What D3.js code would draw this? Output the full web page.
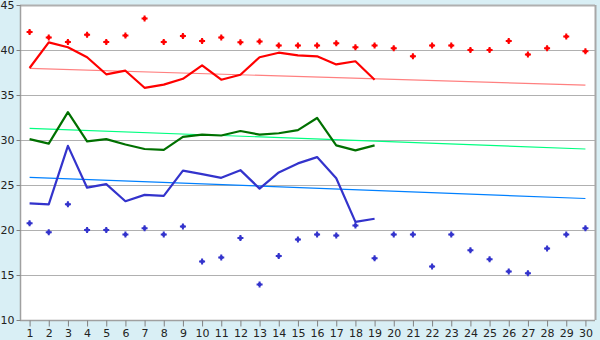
<!DOCTYPE html>
<html>
<head>
<meta charset="utf-8">
<script src="https://cdn.jsdelivr.net/npm/d3@7"></script>
<style>
	body { margin: 0; background: #d9eff5; }
	svg { display: block; }
	.tick text { font-family: "DejaVu Sans", Verdana, sans-serif; font-size: 11px; fill: #222; }
</style>
</head>
<body>
<svg id="canvas" width="600" height="340"></svg>
<script>
var days = d3.range(1, 31);
var yTicks = [10, 15, 20, 25, 30, 35, 40, 45];

// daily maximum (red points)
var maxPoints = [42.0, 41.4, 40.9, 41.7, 40.9, 41.6, 43.5, 40.9, 41.55, 41.0,
	41.4, 40.85, 40.95, 40.5, 40.5, 40.5, 40.75, 40.3, 40.5, 40.2,
	39.3, 40.5, 40.5, 40.0, 40.0, 41.0, 39.5, 40.2, 41.5, 39.85];
// daily minimum (blue points)
var minPoints = [20.75, 19.75, 22.85, 20.0, 20.0, 19.5, 20.2, 19.5, 20.4, 16.5,
	16.95, 19.1, 13.95, 17.1, 18.95, 19.5, 19.4, 20.5, 16.85, 19.5,
	19.5, 15.95, 19.5, 17.75, 16.75, 15.4, 15.2, 17.95, 19.5, 20.2];

// lines for days 1..19
var redLine = [38.0, 40.85, 40.3, 39.2, 37.3, 37.7, 35.8, 36.15, 36.8, 38.3,
	36.7, 37.25, 39.2, 39.7, 39.4, 39.3, 38.4, 38.75, 36.7];
var greenLine = [30.1, 29.6, 33.1, 29.85, 30.1, 29.5, 29.0, 28.9, 30.35, 30.6,
	30.5, 31.0, 30.6, 30.75, 31.1, 32.45, 29.4, 28.85, 29.4];
var blueLine = [22.95, 22.85, 29.35, 24.7, 25.1, 23.2, 23.9, 23.8, 26.6, 26.2,
	25.8, 26.65, 24.6, 26.4, 27.4, 28.1, 25.75, 20.9, 21.25];

// trend lines, value at day 1 and day 30
var redTrend = [37.95, 36.1];
var greenTrend = [31.3, 29.0];
var blueTrend = [25.85, 23.5];

var svg = d3.select("#canvas");
var plotLeft = 20, plotRight = 595, plotTop = 5, plotBottom = 320;

var x = d3.scalePoint().domain(days).range([plotLeft, plotRight]).padding(0.5);
var y = d3.scaleLinear().domain([10, 45]).range([plotBottom, plotTop]);

svg.append("rect")
	.attr("x", plotLeft).attr("y", plotTop)
	.attr("width", plotRight - plotLeft).attr("height", plotBottom - plotTop)
	.attr("fill", "#ffffff");

// grid
svg.append("g").selectAll("line")
	.data(yTicks.slice(1))
	.enter()
	.append("line")
		.attr("x1", plotLeft).attr("x2", plotRight)
		.attr("y1", function(d){ return Math.round(y(d)) + 0.5; })
		.attr("y2", function(d){ return Math.round(y(d)) + 0.5; })
		.attr("stroke", "#b0b0b0")
		.attr("stroke-width", function(d){ return d === 45 ? 2 : 1.2; });

svg.append("line")
	.attr("x1", plotRight + 0.5).attr("x2", plotRight + 0.5)
	.attr("y1", plotTop).attr("y2", plotBottom)
	.attr("stroke", "#a8a8a8").attr("stroke-width", 2);

// axes
var xAxis = svg.append("g")
	.attr("transform", "translate(0," + (plotBottom + 0.5) + ")")
	.call(d3.axisBottom(x).tickSize(6).tickPadding(3).tickSizeOuter(0));
var yAxis = svg.append("g")
	.attr("transform", "translate(" + (plotLeft + 0.5) + ",0)")
	.call(d3.axisLeft(y).tickValues(yTicks).tickSize(4).tickPadding(2).tickSizeOuter(0));
svg.selectAll(".domain").attr("stroke", "#a0a0a0").attr("stroke-width", 1.5);
svg.selectAll(".tick line").attr("stroke", "#808080");
xAxis.selectAll(".domain").attr("d", "M" + plotLeft + ",0H" + plotRight);
yAxis.selectAll(".domain").attr("d", "M0," + plotTop + "V" + plotBottom);

function trend(vals, color){
	svg.append("line")
		.attr("x1", x(1)).attr("x2", x(30))
		.attr("y1", y(vals[0])).attr("y2", y(vals[1]))
		.attr("stroke", color).attr("stroke-width", 1.2);
}
trend(redTrend, "#ff8080");
trend(greenTrend, "#00ff80");
trend(blueTrend, "#0080ff");

var lineGenerator = d3.line()
	.x(function(d, i){ return x(i + 1); })
	.y(function(d){ return y(d); });

function series(vals, color){
	svg.append("path")
		.attr("d", lineGenerator(vals))
		.attr("fill", "none")
		.attr("stroke", color)
		.attr("stroke-width", 2.2)
		.attr("stroke-linejoin", "round");
}
series(redLine, "#ff0000");
series(greenLine, "#007000");
series(blueLine, "#3333cc");

// plus marker with a fat centre
var crossShape = d3.symbol().type(d3.symbolCross).size(20);
var centreShape = d3.symbol().type(d3.symbolSquare).size(10);
function points(vals, color){
	var g = svg.append("g").selectAll("g")
		.data(vals)
		.enter()
		.append("g")
			.attr("transform", function(d, i){ return "translate(" + x(i + 1) + "," + y(d) + ")"; })
			.attr("fill", color);
	g.append("path").attr("d", crossShape);
	g.append("path").attr("d", centreShape);
}
points(maxPoints, "#ff0000");
points(minPoints, "#3333cc");
</script>
</body>
</html>
